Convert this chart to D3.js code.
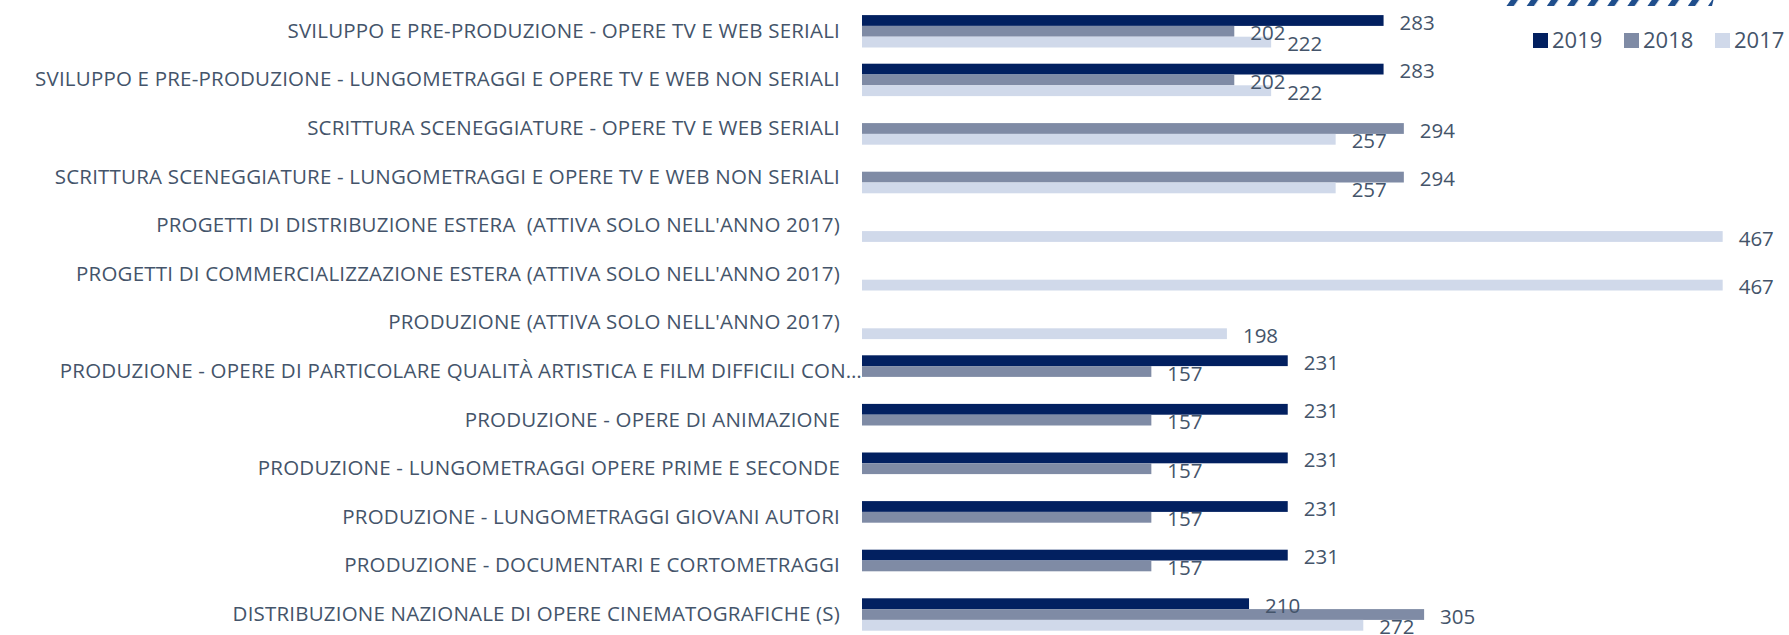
<!DOCTYPE html>
<html>
<head>
<meta charset="utf-8">
<script src="https://cdn.jsdelivr.net/npm/d3@7"></script>
<style>
  html, body { margin: 0; padding: 0; background: #fff; }
  svg { display: block; }
  .cat text { white-space: pre; }
</style>
</head>
<body>
<div id="chart"></div>
<script>
const categories = [
  'SVILUPPO E PRE-PRODUZIONE - OPERE TV E WEB SERIALI',
  'SVILUPPO E PRE-PRODUZIONE - LUNGOMETRAGGI E OPERE TV E WEB NON SERIALI',
  'SCRITTURA SCENEGGIATURE - OPERE TV E WEB SERIALI',
  'SCRITTURA SCENEGGIATURE - LUNGOMETRAGGI E OPERE TV E WEB NON SERIALI',
  'PROGETTI DI DISTRIBUZIONE ESTERA  (ATTIVA SOLO NELL\'ANNO 2017)',
  'PROGETTI DI COMMERCIALIZZAZIONE ESTERA (ATTIVA SOLO NELL\'ANNO 2017)',
  'PRODUZIONE (ATTIVA SOLO NELL\'ANNO 2017)',
  'PRODUZIONE - OPERE DI PARTICOLARE QUALITÀ ARTISTICA E FILM DIFFICILI CON…',
  'PRODUZIONE - OPERE DI ANIMAZIONE',
  'PRODUZIONE - LUNGOMETRAGGI OPERE PRIME E SECONDE',
  'PRODUZIONE - LUNGOMETRAGGI GIOVANI AUTORI',
  'PRODUZIONE - DOCUMENTARI E CORTOMETRAGGI',
  'DISTRIBUZIONE NAZIONALE DI OPERE CINEMATOGRAFICHE (S)'
];
const years = ['2019', '2018', '2017'];
const values2019 = [283, 283, null, null, null, null, null, 231, 231, 231, 231, 231, 210];
const values2018 = [202, 202, 294, 294, null, null, null, 157, 157, 157, 157, 157, 305];
const values2017 = [222, 222, 257, 257, 467, 467, 198, null, null, null, null, null, 272];

const seriesValues = { '2019': values2019, '2018': values2018, '2017': values2017 };
const colors = { '2019': '#022060', '2018': '#7f8ba5', '2017': '#d0d9ea' };
const TEXT = '#44546a';
const FONT = '"Open Sans", "DejaVu Sans", sans-serif';

const W = 1789, H = 635;
const svg = d3.select('#chart').append('svg').attr('width', W).attr('height', H);

const defs = svg.append('defs');
const pat = defs.append('pattern').attr('id', 'hatch').attr('patternUnits', 'userSpaceOnUse')
  .attr('width', 16.5).attr('height', 16.5).attr('patternTransform', 'rotate(35)');
pat.append('rect').attr('x', 0).attr('y', 0).attr('width', 6).attr('height', 16.5).attr('fill', '#1f4e8c');

// bit of the shape sitting above the chart
svg.append('path').attr('d', 'M1502,-10 L1716,-10 L1712,6 L1502,6 Z').attr('fill', 'url(#hatch)');

const x = d3.scaleLinear().domain([0, 500]).range([862, 862 + 1.843 * 500]);
const y = d3.scaleBand().domain(categories).range([7, 638.8]).paddingInner(1 / 3).paddingOuter(1 / 6);
const ySub = d3.scaleBand().domain(years).range([0, y.bandwidth()]);

const rows = categories.flatMap((c, i) => years.map(yr => ({ cat: c, yr, v: seriesValues[yr][i] })))
  .filter(d => d.v != null);

svg.append('g').selectAll('rect').data(rows).join('rect')
  .attr('x', x(0))
  .attr('y', d => y(d.cat) + ySub(d.yr))
  .attr('width', d => x(d.v) - x(0))
  .attr('height', ySub.bandwidth())
  .attr('fill', d => colors[d.yr]);

svg.append('g').selectAll('text').data(rows).join('text')
  .attr('x', d => x(d.v) + 16)
  .attr('y', d => y(d.cat) + ySub(d.yr) + ySub.bandwidth() / 2 + 2)
  .attr('dy', '0.35em')
  .attr('font-family', FONT).attr('font-size', 20.5).attr('fill', TEXT)
  .text(d => d.v);

// category axis
const yAxis = svg.append('g').attr('class', 'cat').attr('transform', `translate(840,0)`)
  .call(d3.axisLeft(y).tickSize(0).tickPadding(0));
yAxis.select('.domain').remove();
yAxis.selectAll('text').attr('font-family', FONT).attr('font-size', 20.5).attr('letter-spacing', 0.2)
  .attr('fill', TEXT)
  .attr('x', d => d.endsWith('…') ? 22 : 0);

// legend
const legend = svg.append('g').selectAll('g').data(years).join('g')
  .attr('transform', (d, i) => `translate(${[1533, 1624, 1715][i]},33)`);
legend.append('rect').attr('width', 15).attr('height', 15).attr('fill', d => colors[d]);
legend.append('text').attr('x', 19).attr('y', 7.5).attr('dy', '0.36em')
  .attr('font-family', FONT).attr('font-size', 22).attr('fill', TEXT).text(d => d);
</script>
</body>
</html>
